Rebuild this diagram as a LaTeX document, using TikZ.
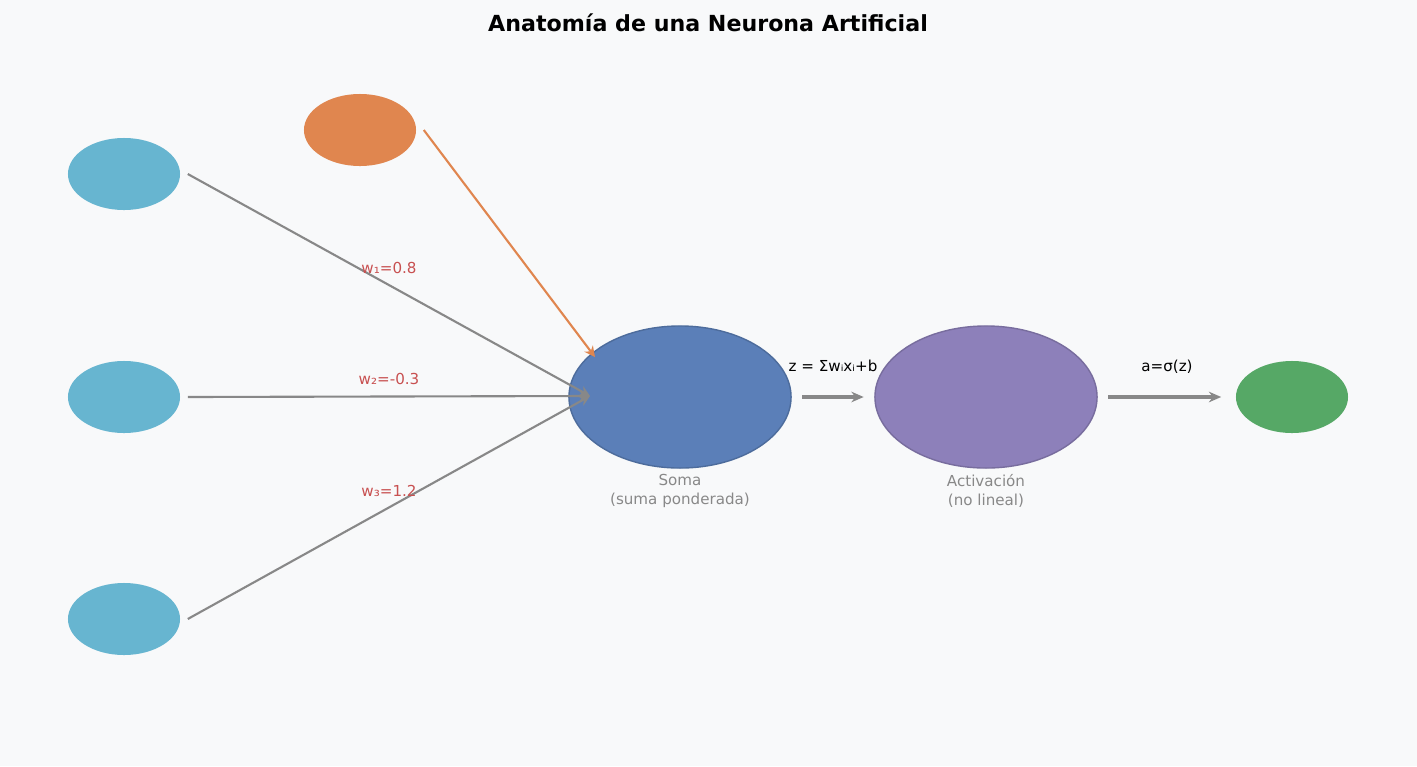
\documentclass[tikz,border=0pt]{standalone}
\usepackage{fontspec}
\setmainfont{DejaVu Sans}
\usetikzlibrary{shapes.geometric,arrows.meta}
\definecolor{bg}{HTML}{F8F9FA}
\definecolor{cin}{HTML}{67B5D0}
\definecolor{cbias}{HTML}{E0864F}
\definecolor{csoma}{HTML}{5B7FB8}
\definecolor{cact}{HTML}{8D80BA}
\definecolor{cout}{HTML}{56A866}
\definecolor{cw}{HTML}{C85050}
\definecolor{cg}{HTML}{888888}
\begin{document}
\begin{tikzpicture}[x=0.01cm,y=-0.01cm,
  small/.style={ellipse,inner sep=0,minimum width=1.12cm,minimum height=0.72cm},
  big/.style={ellipse,inner sep=0,minimum width=2.22cm,minimum height=1.42cm},
  wlab/.style={text=cw,font=\fontsize{4.3}{5}\selectfont},
  lab/.style={font=\fontsize{4.3}{5}\selectfont},
  sub/.style={text=cg,font=\fontsize{4.3}{5.2}\selectfont,align=center},
  conn/.style={draw=cg,line width=0.6pt,-{Stealth[length=3pt,width=3pt]}},
  thick/.style={draw=cg,line width=0.9pt,-{Stealth[length=3.5pt,width=3pt]}}]
\fill[bg] (0,0) rectangle (1417,766);
\useasboundingbox (0,0) rectangle (1417,766);
\node[font=\bfseries\fontsize{6.3}{7}\selectfont] (title) at (708,23) {Anatomía de una Neurona Artificial};
\node[small,fill=cin] (in1) at (124,174) {};
\node[small,fill=cin] (in2) at (124,397) {};
\node[small,fill=cin] (in3) at (124,619) {};
\node[small,fill=cbias] (bias) at (360,130) {};
\node[big,fill=csoma,draw=csoma!85!black,line width=0.4pt] (soma) at (680,397) {};
\node[big,fill=cact,draw=cact!85!black,line width=0.4pt] (act) at (986,397) {};
\node[small,fill=cout] (out) at (1292,397) {};
\coordinate (sin) at (590,396);
\coordinate (bin) at (595,357);
\draw[conn] ([xshift=2]in1.east) -- (sin);
\draw[conn] ([xshift=2]in2.east) -- (sin);
\draw[conn] ([xshift=2]in3.east) -- (sin);
\draw[conn,draw=cbias] ([xshift=2]bias.east) -- (bin);
\draw[thick] ([xshift=3]soma.east) -- ([xshift=-3]act.west);
\draw[thick] ([xshift=3]act.east) -- ([xshift=-4]out.west);
\node[wlab] (w1) at (389,268) {w₁=0.8};
\node[wlab] (w2) at (389,379) {w₂=-0.3};
\node[wlab] (w3) at (389,491) {w₃=1.2};
\node[lab] (z) at (833,366) {z = Σwᵢxᵢ+b};
\node[lab] (a) at (1167,367) {a=σ(z)};
\node[sub] (sl) at (680,491) {Soma\\(suma ponderada)};
\node[sub] (al) at (986,491) {Activación\\(no lineal)};
\end{tikzpicture}
\end{document}
